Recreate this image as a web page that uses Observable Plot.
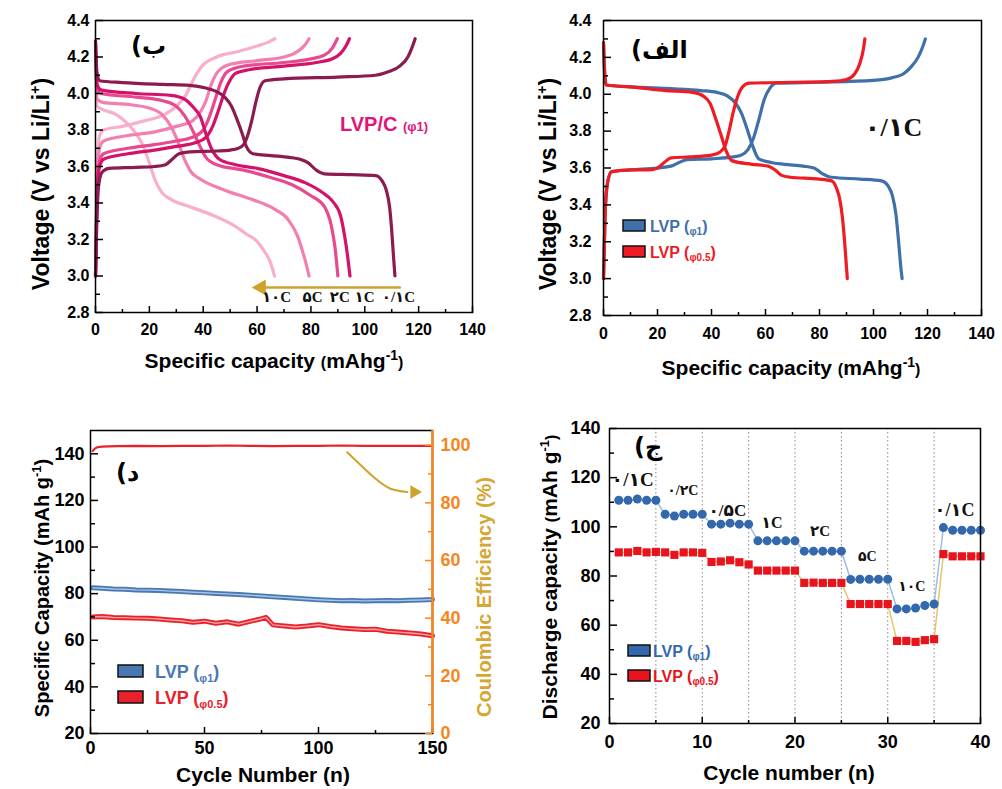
<!DOCTYPE html>
<html><head><meta charset="utf-8">
<script src="https://cdn.jsdelivr.net/npm/d3@7"></script>
<script src="https://cdn.jsdelivr.net/npm/@observablehq/plot@0.6"></script>
<style>
html,body{margin:0;padding:0;background:#fff;overflow:hidden;}
#wrap{position:relative;width:1002px;height:789px;overflow:hidden;background:#fff;}
</style></head>
<body><div id="wrap"></div>
<script>
// ---------------- DATA ----------------
// Top-left (ب): LVP/C (φ1) charge / discharge at several rates  [capacity, voltage]
const rateNames = ["0.1C", "1C", "2C", "5C", "10C"];
const dis01C = [[0,4.29],[0.5,4.12],[1.5,4.07],[10,4.06],[25,4.05],[35,4.045],[41,4.03],[45,4.01],[48,3.98],[50.5,3.93],[52.5,3.86],[54.5,3.78],[56,3.71],[58.5,3.67],[65,3.66],[72,3.65],[76,3.64],[79,3.62],[82,3.58],[85,3.56],[95,3.555],[104,3.55],[106.5,3.52],[108,3.47],[109.2,3.38],[110,3.25],[110.6,3.12],[111.2,3.0]];
const chg01C = [[0,3.0],[0.5,3.3],[1.2,3.5],[2.5,3.57],[5,3.59],[15,3.595],[22,3.6],[26,3.61],[28.5,3.64],[31,3.67],[35,3.68],[45,3.685],[50,3.69],[53,3.7],[55,3.72],[56.5,3.77],[58,3.85],[59.5,3.95],[61,4.03],[63,4.07],[70,4.08],[90,4.09],[104,4.1],[109,4.12],[113,4.15],[116,4.2],[117.5,4.25],[118.7,4.3]];
const dis1C = [[0,4.28],[0.6,4.05],[2,4.02],[15,4.0],[28,3.99],[33,3.97],[36,3.93],[39,3.87],[41,3.78],[43,3.7],[46,3.64],[52,3.61],[60,3.59],[70,3.55],[78,3.51],[84,3.46],[88,3.41],[91,3.33],[92.5,3.22],[93.7,3.1],[94.5,3.0]];
const chg1C = [[0,3.0],[0.5,3.4],[1.5,3.6],[3,3.64],[12,3.67],[22,3.69],[30,3.71],[37,3.73],[41,3.76],[43.5,3.82],[45.5,3.9],[47.5,3.99],[49.5,4.06],[52,4.11],[57,4.13],[70,4.15],[82,4.17],[88,4.19],[91,4.22],[93,4.26],[94.3,4.3]];
const dis2C = [[0,4.27],[0.6,4.02],[2,4.0],[15,3.98],[25,3.96],[30,3.93],[33,3.88],[36,3.8],[38.5,3.72],[41,3.65],[45,3.61],[55,3.58],[65,3.54],[73,3.5],[80,3.44],[85,3.38],[87.5,3.28],[89,3.15],[90,3.0]];
const chg2C = [[0,3.0],[0.5,3.4],[1.5,3.63],[3,3.67],[12,3.7],[22,3.72],[30,3.74],[36,3.76],[40,3.8],[42.5,3.88],[44.5,3.97],[46.5,4.06],[49,4.12],[55,4.15],[70,4.17],[80,4.19],[85,4.21],[88,4.25],[89.8,4.3]];
const dis5C = [[0,4.25],[0.6,3.97],[3,3.95],[12,3.94],[20,3.92],[25,3.88],[28,3.82],[30.5,3.74],[33,3.64],[35.5,3.57],[39,3.53],[48,3.47],[58,3.42],[66,3.37],[71.5,3.31],[75,3.22],[77.2,3.12],[78.5,3.05],[79.3,3.0]];
const chg5C = [[0,3.0],[0.5,3.45],[1.5,3.7],[3,3.74],[12,3.77],[22,3.79],[30,3.82],[36,3.85],[39,3.9],[41,3.96],[43,4.05],[45.5,4.12],[50,4.16],[60,4.18],[70,4.2],[75,4.23],[78,4.27],[79.3,4.3]];
const dis10C = [[0,4.22],[0.6,3.93],[3,3.91],[7,3.89],[10,3.86],[14,3.8],[17.5,3.72],[20,3.62],[22,3.53],[24.5,3.46],[28,3.42],[35,3.38],[44,3.33],[51,3.28],[56,3.23],[60,3.19],[62.5,3.14],[64.8,3.08],[66.5,3.0]];
const chg10C = [[0,3.0],[0.5,3.5],[1.5,3.77],[3,3.8],[10,3.82],[18,3.85],[25,3.88],[30,3.93],[33.5,3.99],[36.5,4.08],[39.5,4.15],[45,4.2],[53,4.23],[60,4.26],[64,4.28],[66.6,4.3]];
const tlRateLabels = ["۱۰C", "۵C", "۲C", "۱C", "۰/۱C"];
const tlRateLabelX = [67.2, 80.6, 90.7, 99.9, 112.5];
const tlRateLabelY = [2.882, 2.882, 2.882, 2.882, 2.882];
const tlArrow = [[113, 2.937], [63, 2.937]];

// Top-right (الف): 0.1C, LVP φ1 vs φ0.5
const phi1Dis = [[0,4.28],[0.5,4.1],[1,4.05],[10,4.04],[25,4.03],[36,4.02],[42,4.01],[46,3.99],[49,3.95],[51,3.9],[53,3.82],[55,3.73],[57.5,3.65],[62,3.63],[67,3.62],[74,3.61],[78,3.6],[81,3.57],[84.5,3.55],[95,3.54],[103,3.53],[105.5,3.5],[107,3.45],[108.3,3.35],[109.3,3.2],[110.2,3.05],[110.6,3.0]];
const phi1Chg = [[0,3.0],[0.6,3.35],[1.5,3.52],[3,3.58],[10,3.59],[20,3.6],[25,3.61],[28,3.63],[31,3.645],[40,3.65],[48,3.66],[51,3.67],[53.5,3.7],[55.5,3.76],[57.5,3.86],[59.5,3.97],[61.5,4.03],[64,4.06],[80,4.065],[100,4.075],[107,4.09],[111,4.11],[114,4.15],[116.5,4.2],[118.3,4.26],[119.2,4.3]];
const phi05Dis = [[0,4.28],[0.5,4.1],[1,4.05],[10,4.04],[23,4.02],[33,4.01],[37,3.99],[39.5,3.95],[41.5,3.87],[43.5,3.78],[45.5,3.69],[47.5,3.64],[55,3.62],[61,3.61],[63.5,3.59],[66,3.56],[69,3.55],[80,3.54],[84.5,3.53],[86.3,3.49],[87.5,3.43],[88.5,3.33],[89.3,3.2],[90,3.06],[90.3,3.0]];
const phi05Chg = [[0,3.0],[0.6,3.35],[1.5,3.52],[3,3.58],[10,3.59],[17,3.59],[20,3.6],[22.5,3.63],[25,3.655],[32,3.66],[40,3.67],[43,3.685],[45,3.72],[46.5,3.8],[48,3.9],[49.5,3.98],[51.5,4.04],[54,4.06],[70,4.065],[85,4.07],[90,4.08],[93,4.11],[95,4.17],[96.2,4.24],[96.8,4.3]];
const trRateLabel = ["۰/۱C"], trRateLabelX = [107.4], trRateLabelY = [3.817];

// Bottom-left (د): cycling at constant rate
const blBlueCycle = [1,5,10,15,20,25,30,35,40,45,50,55,60,65,70,75,80,85,90,95,100,105,110,115,120,125,130,135,140,145,150];
const blBlueCap = [82.5,82.3,82.0,81.9,81.6,81.5,81.4,81.1,80.9,80.6,80.4,80.1,79.9,79.6,79.3,79.0,78.7,78.4,78.0,77.7,77.4,77.2,77.0,77.1,76.9,77.0,77.1,77.0,77.2,77.3,77.5];
const blRedCycle = [1,5,10,15,20,25,30,35,40,45,50,55,60,65,70,74,77,80,85,90,95,100,105,110,115,120,125,130,135,140,145,150];
const blRedCap = [70.0,70.2,69.8,69.7,69.5,69.4,69.1,68.7,68.4,67.7,68.2,67.3,67.9,66.9,68.1,69.0,69.8,66.6,66.1,65.7,66.1,66.7,65.9,65.3,64.9,64.6,64.7,63.9,63.5,63.1,62.7,61.9];
const blCECycle = [1,2,3,5,8,12,20,30,40,50,60,70,80,90,100,110,120,130,140,150];
const blCE = [98.0,98.9,99.3,99.5,99.6,99.7,99.8,99.7,99.8,99.8,99.9,99.8,99.7,99.8,99.8,99.9,99.8,99.8,99.8,99.8];
const blArrow = [[112.6,140.7],[124.2,130],[131.6,125],[138.9,123.6]];
const blArrowHead = [[142,123.6]];

// Bottom-right (ج): rate capability
const brCycle = d3.range(1, 41);
const brBlue = [110.8,110.8,111.3,110.8,110.8, 105.1,104.4,105.1,105.1,105.1, 101.1,101.1,101.5,101.1,101.1, 94.3,94.3,94.3,94.3,94.3, 90.1,90.1,90.1,90.1,90.1, 78.6,78.7,78.7,78.7,78.7, 66.6,66.6,67.0,68.0,68.6, 99.7,98.6,98.6,98.6,98.6];
const brRed = [89.6,89.6,90.2,89.6,89.8, 89.6,88.6,89.6,89.6,89.4, 85.7,85.9,86.4,85.6,84.7, 82.2,82.2,82.2,82.2,82.2, 77.2,77.3,77.2,77.2,77.2, 68.6,68.6,68.6,68.6,68.6, 53.6,53.6,53.2,53.9,54.3, 88.9,88.0,88.0,88.0,88.0];
const brRateLabels = ["۰/۱C","۰/۲C","۰/۵C","۱C","۲C","۵C","۱۰C","۰/۱C"];
const brRateLabelX = [2.5, 7.9, 12.7, 17.5, 22.7, 27.8, 32.6, 37.2];
const brRateLabelY = [119, 114.6, 106.8, 101.5, 98.4, 87.8, 75.6, 106.8];
const brRateLabelSize = [19, 14, 17, 16, 15, 14, 14, 18];
const brSteps = [5, 10, 15, 20, 25, 30, 35, 40];

// ---------------- STYLE ----------------
const W = 1002, H = 789;
const SANS = "'Liberation Sans', Arial, 'DejaVu Sans', sans-serif";
const SERIF = "'Liberation Serif', 'DejaVu Serif', 'DejaVu Sans', serif";
const STYLE = "position:absolute;left:0;top:0;background:transparent;overflow:visible;font-family:" + SANS;
const wrap = document.getElementById("wrap");
const fx = d => d[0], fy = d => d[1];

// inward ticks: an axis anchored on the opposite side, shifted across the frame
function axesMarks({fw, fh, xMajor, xMinor, yMajor, yMinor, fs, xPad, yPad, yFmt, color = "black", yAnchor = "left", noX = false}) {
  const m = [];
  if (!noX) {
    m.push(Plot.axisX(xMajor, {anchor: "top", tickSize: 7, dy: fh, fill: "none", label: null, stroke: color, strokeWidth: 1.5}));
    m.push(Plot.axisX(xMinor, {anchor: "top", tickSize: 4, dy: fh, fill: "none", label: null, stroke: color, strokeWidth: 1.5}));
    m.push(Plot.axisX(xMajor, {anchor: "bottom", tickSize: 0, tickPadding: xPad, label: null, fontSize: fs, fontWeight: "bold", fill: color}));
  }
  const opp = yAnchor === "left" ? "right" : "left";
  const shift = yAnchor === "left" ? -fw : fw;
  m.push(Plot.axisY(yMajor, {anchor: opp, tickSize: 7, dx: shift, fill: "none", label: null, stroke: color, strokeWidth: 1.5}));
  m.push(Plot.axisY(yMinor, {anchor: opp, tickSize: 4, dx: shift, fill: "none", label: null, stroke: color, strokeWidth: 1.5}));
  m.push(Plot.axisY(yMajor, {anchor: yAnchor, tickSize: 0, tickPadding: yPad, label: null, fontSize: fs, fontWeight: "bold", fill: color, tickFormat: yFmt}));
  return m;
}

function addText(svg, {x, y, rotate = 0, anchor = "start", size = 20, fill = "#000", family = SANS, parts}) {
  const tx = rotate ? x + 0.35 * size : x;
  const t = d3.select(svg).append("text")
    .attr("transform", `translate(${tx},${y})` + (rotate ? ` rotate(${rotate})` : ""))
    .attr("text-anchor", anchor).attr("font-family", family).attr("font-weight", "bold")
    .attr("font-size", size).attr("fill", fill);
  for (const p of parts) {
    const s = t.append("tspan").text(p.t);
    if (p.size) s.attr("font-size", p.size);
    if (p.dy) s.attr("dy", p.dy);
    if (p.fill) s.attr("fill", p.fill);
  }
  return t;
}
function addSwatch(svg, x, y, w, h, fill) {
  d3.select(svg).append("rect").attr("x", x).attr("y", y).attr("width", w).attr("height", h)
    .attr("fill", fill).attr("stroke", "#111").attr("stroke-width", 1.5);
}

const gold = "#cfa22c";
const tlColors = {"0.1C": "#8c1c4f", "1C": "#d4126a", "2C": "#e94a8f", "5C": "#f27fb0", "10C": "#f8afcd"};
const tlCurves = [["10C", dis10C, chg10C], ["5C", dis5C, chg5C], ["2C", dis2C, chg2C], ["1C", dis1C, chg1C], ["0.1C", dis01C, chg01C]];

// ---------------- TOP-LEFT ----------------
const tl = Plot.plot({
  width: W, height: H, marginLeft: 95, marginRight: W - 472, marginTop: 20, marginBottom: H - 312,
  style: STYLE,
  x: {domain: [0, 140]}, y: {domain: [2.8, 4.4]},
  marks: [
    ...tlCurves.flatMap(([r, d, c]) => [
      Plot.line(d, {x: fx, y: fy, stroke: tlColors[r], strokeWidth: 3.2, curve: "monotone-x"}),
      Plot.line(c, {x: fx, y: fy, stroke: tlColors[r], strokeWidth: 3.2, curve: "monotone-x"})
    ]),
    Plot.line(tlArrow, {x: fx, y: fy, stroke: gold, strokeWidth: 2.5}),
    Plot.dot([tlArrow[1]], {x: fx, y: fy, symbol: "triangle", rotate: -90, r: 6, fill: gold, dx: -4}),
    Plot.text(tlRateLabels, {x: (d, i) => tlRateLabelX[i], y: (d, i) => tlRateLabelY[i], text: d => d, fontFamily: SERIF, fontWeight: "bold", fontSize: 15, fill: "#111"}),
    Plot.frame({stroke: "black", strokeWidth: 1.5}),
    ...axesMarks({fw: 377, fh: 292, xMajor: d3.range(0, 141, 20), xMinor: d3.range(10, 140, 20), yMajor: d3.range(28, 45, 2).map(v => v / 10), yMinor: d3.range(29, 44, 2).map(v => v / 10), fs: 16, xPad: 11, yPad: 6, yFmt: d => d.toFixed(1)})
  ]
});
wrap.appendChild(tl);
addText(tl, {x: 41, y: 184, rotate: -90, anchor: "middle", size: 23, parts: [{t: "Voltage (V vs Li/Li"}, {t: "+", size: 14, dy: -9}, {t: ")", dy: 9}]});
addText(tl, {x: 274, y: 368, anchor: "middle", size: 21, parts: [{t: "Specific capacity "}, {t: "(", size: 16}, {t: "mAhg"}, {t: "-1", size: 14, dy: -8}, {t: ")", size: 16, dy: 8}]});
addText(tl, {x: 131, y: 54, size: 24, family: "'DejaVu Sans', sans-serif", parts: [{t: "(ب"}]});
addText(tl, {x: 340, y: 131, size: 20, fill: "#e3157a", parts: [{t: "LVP/C "}, {t: "(φ1)", size: 13}]});

// ---------------- TOP-RIGHT ----------------
const blue = "#3f70a9", red = "#ee1c24";
const tr = Plot.plot({
  width: W, height: H, marginLeft: 603, marginRight: W - 981, marginTop: 20, marginBottom: H - 315,
  style: STYLE,
  x: {domain: [0, 140]}, y: {domain: [2.8, 4.4]},
  marks: [
    Plot.line(phi1Dis, {x: fx, y: fy, stroke: blue, strokeWidth: 3.2, curve: "monotone-x"}),
    Plot.line(phi1Chg, {x: fx, y: fy, stroke: blue, strokeWidth: 3.2, curve: "monotone-x"}),
    Plot.line(phi05Dis, {x: fx, y: fy, stroke: red, strokeWidth: 3.2, curve: "monotone-x"}),
    Plot.line(phi05Chg, {x: fx, y: fy, stroke: red, strokeWidth: 3.2, curve: "monotone-x"}),
    Plot.text(trRateLabel, {x: (d, i) => trRateLabelX[i], y: (d, i) => trRateLabelY[i], text: d => d, fontFamily: SERIF, fontWeight: "bold", fontSize: 26, fill: "#111"}),
    Plot.frame({stroke: "black", strokeWidth: 1.5}),
    ...axesMarks({fw: 378, fh: 295, xMajor: d3.range(0, 141, 20), xMinor: d3.range(10, 140, 20), yMajor: d3.range(28, 45, 2).map(v => v / 10), yMinor: d3.range(29, 44, 2).map(v => v / 10), fs: 16, xPad: 12, yPad: 12, yFmt: d => d.toFixed(1)})
  ]
});
wrap.appendChild(tr);
addText(tr, {x: 548, y: 184, rotate: -90, anchor: "middle", size: 23, parts: [{t: "Voltage (V vs Li/Li"}, {t: "+", size: 14, dy: -9}, {t: ")", dy: 9}]});
addText(tr, {x: 791, y: 375, anchor: "middle", size: 21, parts: [{t: "Specific capacity "}, {t: "(", size: 16}, {t: "mAhg"}, {t: "-1", size: 14, dy: -8}, {t: ")", size: 16, dy: 8}]});
addText(tr, {x: 631, y: 58, size: 24, family: "'DejaVu Sans', sans-serif", parts: [{t: "(الف"}]});
addSwatch(tr, 623, 220, 22, 11, blue);
addSwatch(tr, 623, 246, 22, 11, red);
addText(tr, {x: 650, y: 232, size: 16, fill: blue, parts: [{t: "LVP ("}, {t: "φ1", size: 10, dy: 3}, {t: ")", dy: -3}]});
addText(tr, {x: 650, y: 258, size: 16, fill: red, parts: [{t: "LVP ("}, {t: "φ0.5", size: 10, dy: 3}, {t: ")", dy: -3}]});

// ---------------- BOTTOM-LEFT ----------------
const blBlueColor = "#4a78b3", blRedColor = "#e8212a", orange = "#f7861d";
const bl = Plot.plot({
  width: W, height: H, marginLeft: 90, marginRight: W - 432, marginTop: 430, marginBottom: H - 733,
  style: STYLE,
  x: {domain: [0, 150]}, y: {domain: [20, 150]},
  marks: [
    Plot.line(blBlueCycle, {x: d => d, y: (d, i) => blBlueCap[i], stroke: blBlueColor, strokeWidth: 5}),
    Plot.line(blBlueCycle, {x: d => d, y: (d, i) => blBlueCap[i], stroke: "#a9c4e4", strokeWidth: 1.4}),
    Plot.line(blRedCycle, {x: d => d, y: (d, i) => blRedCap[i], stroke: blRedColor, strokeWidth: 5}),
    Plot.line(blRedCycle, {x: d => d, y: (d, i) => blRedCap[i], stroke: "#f7a0a3", strokeWidth: 1.4}),
    Plot.line(blArrow, {x: fx, y: fy, stroke: gold, strokeWidth: 2, curve: "natural"}),
    Plot.dot(blArrowHead, {x: fx, y: fy, symbol: "triangle", rotate: 90, r: 5, fill: gold}),
    Plot.frame({stroke: "black", strokeWidth: 1.5}),
    ...axesMarks({fw: 342, fh: 303, xMajor: [0, 50, 100, 150], xMinor: [25, 75, 125], yMajor: d3.range(20, 141, 20), yMinor: d3.range(30, 150, 20), fs: 18, xPad: 8, yPad: 6, yFmt: d => d})
  ]
});
wrap.appendChild(bl);
const blR = Plot.plot({
  width: W, height: H, marginLeft: 90, marginRight: W - 432, marginTop: 430, marginBottom: H - 733,
  style: STYLE,
  x: {domain: [0, 150], axis: null}, y: {domain: [0, 105.1]},
  marks: [
    Plot.line(blCECycle, {x: d => d, y: (d, i) => blCE[i], stroke: blRedColor, strokeWidth: 2.2}),
    Plot.ruleX([150], {stroke: orange, strokeWidth: 2.5}),
    ...axesMarks({fw: 342, fh: 303, yMajor: d3.range(0, 101, 20), yMinor: d3.range(10, 100, 20), fs: 18, yPad: 8, yFmt: d => d, color: orange, yAnchor: "right", noX: true})
  ]
});
wrap.appendChild(blR);
addText(bl, {x: 42, y: 588, rotate: -90, anchor: "middle", size: 20, parts: [{t: "Specific Capacity (mAh g"}, {t: "-1", size: 13, dy: -8}, {t: ")", dy: 8}]});
addText(bl, {x: 484, y: 597, rotate: -90, anchor: "middle", size: 20, fill: "#d6a633", parts: [{t: "Coulombic Efficiency (%)"}]});
addText(bl, {x: 263, y: 782, anchor: "middle", size: 21, parts: [{t: "Cycle Number (n)"}]});
addText(bl, {x: 116, y: 481, size: 24, family: "'DejaVu Sans', sans-serif", parts: [{t: "(د"}]});
addSwatch(bl, 118, 665, 25, 12, blBlueColor);
addSwatch(bl, 118, 691, 25, 12, blRedColor);
addText(bl, {x: 155, y: 678, size: 18, fill: blBlueColor, parts: [{t: "LVP ("}, {t: "φ1", size: 11, dy: 4}, {t: ")", dy: -4}]});
addText(bl, {x: 155, y: 704, size: 18, fill: blRedColor, parts: [{t: "LVP ("}, {t: "φ0.5", size: 11, dy: 4}, {t: ")", dy: -4}]});

// ---------------- BOTTOM-RIGHT ----------------
const brBlueDot = "#3468ac", brRedDot = "#e8141d";
const br = Plot.plot({
  width: W, height: H, marginLeft: 609, marginRight: W - 980, marginTop: 428, marginBottom: H - 723,
  style: STYLE,
  x: {domain: [0, 40]}, y: {domain: [20, 140]},
  marks: [
    Plot.ruleX(brSteps, {stroke: "#888", strokeWidth: 1, strokeDasharray: "1.5,2.5"}),
    Plot.line(brCycle, {x: d => d, y: (d, i) => brBlue[i], stroke: "#9dbde2", strokeWidth: 1.5}),
    Plot.line(brCycle, {x: d => d, y: (d, i) => brRed[i], stroke: "#e8c46a", strokeWidth: 1.5}),
    Plot.dot(brCycle, {x: d => d, y: (d, i) => brBlue[i], r: 4.5, fill: brBlueDot, symbol: "circle"}),
    Plot.dot(brCycle, {x: d => d, y: (d, i) => brRed[i], r: 4.6, fill: brRedDot, symbol: "square"}),
    Plot.text(brRateLabels, {x: (d, i) => brRateLabelX[i], y: (d, i) => brRateLabelY[i], text: d => d, fontFamily: SERIF, fontWeight: "bold", fontSize: (d, i) => brRateLabelSize[i], fill: "#111"}),
    Plot.frame({stroke: "black", strokeWidth: 1.5}),
    ...axesMarks({fw: 371, fh: 295, xMajor: d3.range(0, 41, 10), xMinor: d3.range(5, 40, 10), yMajor: d3.range(20, 141, 20), yMinor: d3.range(30, 140, 20), fs: 18, xPad: 12, yPad: 9, yFmt: d => d})
  ]
});
wrap.appendChild(br);
addText(br, {x: 550, y: 577, rotate: -90, anchor: "middle", size: 21, parts: [{t: "Discharge capacity "}, {t: "(", size: 16}, {t: "mAh g"}, {t: "-1", size: 13, dy: -8}, {t: ")", size: 16, dy: 8}]});
addText(br, {x: 789, y: 780, anchor: "middle", size: 21, parts: [{t: "Cycle number (n)"}]});
addText(br, {x: 634, y: 455, size: 24, family: "'DejaVu Sans', sans-serif", parts: [{t: "(ج"}]});
addSwatch(br, 628, 645, 22, 11, brBlueDot);
addSwatch(br, 628, 670, 22, 11, brRedDot);
addText(br, {x: 653, y: 657, size: 16, fill: brBlueDot, parts: [{t: "LVP ("}, {t: "φ1", size: 10, dy: 3}, {t: ")", dy: -3}]});
addText(br, {x: 653, y: 682, size: 16, fill: brRedDot, parts: [{t: "LVP ("}, {t: "φ0.5", size: 10, dy: 3}, {t: ")", dy: -3}]});
</script>
</body></html>
